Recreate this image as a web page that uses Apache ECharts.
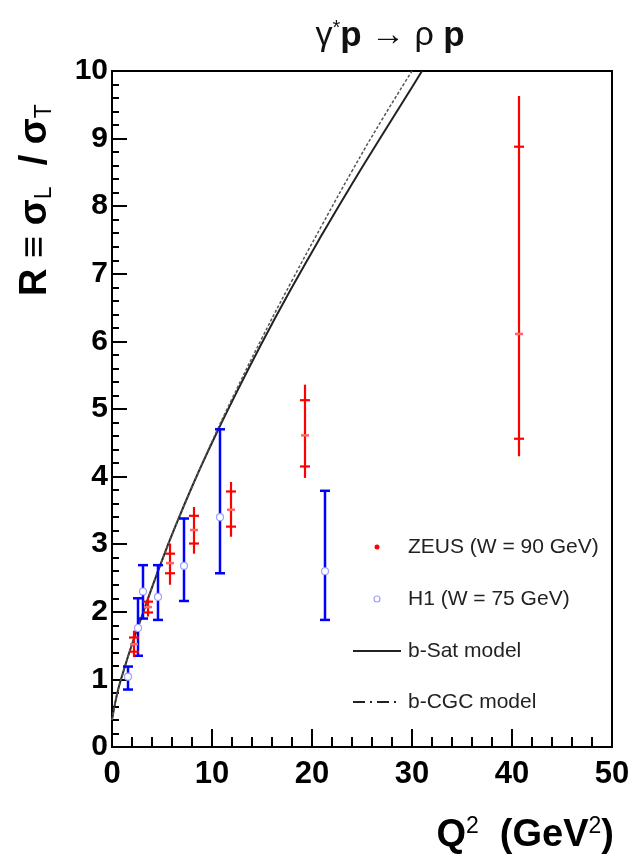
<!DOCTYPE html>
<html>
<head>
<meta charset="utf-8">
<script src="https://cdn.jsdelivr.net/npm/echarts@6/dist/echarts.min.js"></script>
<style>
  html, body { margin: 0; padding: 0; background: #fff; }
  #chart { width: 644px; height: 859px; }
</style>
</head>
<body>
<div id="chart"></div>
<script>
// ZEUS (W = 90 GeV): Q2, R, total error range, stat error range
var zeusQ2     = [2.2, 3.6, 5.8, 8.2, 11.9, 19.3, 40.7];
var zeusR      = [1.52, 2.07, 2.72, 3.21, 3.51, 4.61, 6.11];
var zeusTotLo  = [1.33, 1.93, 2.40, 2.86, 3.11, 3.98, 4.30];
var zeusTotHi  = [1.72, 2.22, 3.01, 3.55, 3.92, 5.36, 9.63];
var zeusStatLo = [1.41, 1.99, 2.57, 3.01, 3.26, 4.15, 4.56];
var zeusStatHi = [1.62, 2.15, 2.86, 3.42, 3.78, 5.13, 8.88];

// H1 (W = 75 GeV)
var h1Q2 = [1.6, 2.6, 3.1, 4.6, 7.2, 10.8, 21.3];
var h1R  = [1.04, 1.76, 2.30, 2.22, 2.68, 3.40, 2.60];
var h1Lo = [0.85, 1.35, 1.90, 1.88, 2.16, 2.57, 1.88];
var h1Hi = [1.19, 2.20, 2.69, 2.69, 3.38, 4.70, 3.79];

// model curves
var satQ2 = [0, 0.5, 1, 2, 3, 4, 5, 6, 8, 10, 12, 15, 18, 21, 24, 27, 30, 31];
var satR  = [0.4, 0.78, 1.05, 1.52, 1.94, 2.36, 2.76, 3.14, 3.85, 4.5, 5.11, 5.98, 6.8, 7.58, 8.33, 9.05, 9.76, 10.0];
var cgcQ2 = [0, 0.5, 1, 2, 3, 4, 5, 6, 8, 10, 12, 15, 18, 21, 24, 27, 30];
var cgcR  = [0.4, 0.78, 1.05, 1.52, 1.94, 2.36, 2.76, 3.14, 3.85, 4.52, 5.15, 6.05, 6.9, 7.72, 8.52, 9.28, 10.0];

var font = 'Liberation Sans, Arial, sans-serif';

var zeusData = zeusQ2.map(function (q, i) {
  return [q, zeusR[i], zeusTotLo[i], zeusTotHi[i], zeusStatLo[i], zeusStatHi[i]];
});
var h1Data = h1Q2.map(function (q, i) {
  return [q, h1R[i], h1Lo[i], h1Hi[i]];
});

function zeusItem(params, api) {
  var x = api.value(0);
  var c = api.coord([x, api.value(1)]);
  var lo = api.coord([x, api.value(2)]);
  var hi = api.coord([x, api.value(3)]);
  var sLo = api.coord([x, api.value(4)]);
  var sHi = api.coord([x, api.value(5)]);
  var st = { stroke: '#ff0000', lineWidth: 2.2 };
  var w = 5;
  return {
    type: 'group',
    children: [
      { type: 'line', shape: { x1: c[0], y1: lo[1], x2: c[0], y2: hi[1] }, style: st },
      { type: 'line', shape: { x1: c[0] - w, y1: sLo[1], x2: c[0] + w, y2: sLo[1] }, style: st },
      { type: 'line', shape: { x1: c[0] - w, y1: sHi[1], x2: c[0] + w, y2: sHi[1] }, style: st },
      { type: 'line', shape: { x1: c[0] - 4, y1: c[1], x2: c[0] + 4, y2: c[1] }, style: { stroke: '#ff6666', lineWidth: 2.5 } }
    ]
  };
}

function h1Item(params, api) {
  var x = api.value(0);
  var c = api.coord([x, api.value(1)]);
  var lo = api.coord([x, api.value(2)]);
  var hi = api.coord([x, api.value(3)]);
  var st = { stroke: '#0000ff', lineWidth: 2.5 };
  var w = 5;
  return {
    type: 'group',
    children: [
      { type: 'line', shape: { x1: c[0], y1: lo[1], x2: c[0], y2: hi[1] }, style: st },
      { type: 'line', shape: { x1: c[0] - w, y1: lo[1], x2: c[0] + w, y2: lo[1] }, style: st },
      { type: 'line', shape: { x1: c[0] - w, y1: hi[1], x2: c[0] + w, y2: hi[1] }, style: st },
      { type: 'circle', shape: { cx: c[0], cy: c[1], r: 3.5 }, style: { fill: '#fff', stroke: '#a0a0ff', lineWidth: 1.2 } }
    ]
  };
}

var chart = echarts.init(document.getElementById('chart'));

var option = {
  animation: false,
  backgroundColor: '#fff',
  grid: {
    left: 112, right: 32, top: 71, bottom: 112,
    show: true, borderColor: '#000', borderWidth: 2, backgroundColor: 'transparent'
  },
  xAxis: {
    type: 'value', min: 0, max: 50, interval: 10,
    axisLine: { show: true, onZero: false, lineStyle: { color: '#000', width: 2 } },
    axisTick: { show: true, inside: true, length: 18, lineStyle: { color: '#000', width: 2 } },
    minorTick: { show: true, splitNumber: 5, length: 10, lineStyle: { color: '#000', width: 2 } },
    splitLine: { show: false },
    axisLabel: { color: '#000', fontFamily: font, fontWeight: 'bold', fontSize: 31, margin: 12 }
  },
  yAxis: {
    type: 'value', min: 0, max: 10, interval: 1,
    axisLine: { show: true, onZero: false, lineStyle: { color: '#000', width: 2 } },
    axisTick: { show: true, inside: true, length: 15, lineStyle: { color: '#000', width: 2 } },
    minorTick: { show: true, splitNumber: 5, length: 7, lineStyle: { color: '#000', width: 2 } },
    splitLine: { show: false },
    axisLabel: { color: '#000', fontFamily: font, fontWeight: 'bold', fontSize: 30, margin: 4 }
  },
  series: [
    {
      name: 'b-Sat model', type: 'line', smooth: true, showSymbol: false,
      data: satQ2.map(function (q, i) { return [q, satR[i]]; }),
      lineStyle: { color: '#222', width: 2 }, z: 3
    },
    {
      name: 'b-CGC model', type: 'line', smooth: true, showSymbol: false,
      data: cgcQ2.map(function (q, i) { return [q, cgcR[i]]; }),
      lineStyle: { color: '#555', width: 1.5, type: [3, 2] }, z: 3
    },
    {
      name: 'H1', type: 'custom', renderItem: h1Item, data: h1Data,
      encode: { x: 0, y: [1, 2, 3] }, z: 4
    },
    {
      name: 'ZEUS', type: 'custom', renderItem: zeusItem, data: zeusData,
      encode: { x: 0, y: [1, 2, 3] }, z: 5
    }
  ],
  graphic: [
    // title
    {
      type: 'text', x: 390, y: 36,
      style: {
        textAlign: 'center', textVerticalAlign: 'middle',
        text: '{n|γ}{s|*}{b|p}{n| → ρ }{b|p}',
        rich: {
          n: { fontFamily: font, fontSize: 34, fill: '#111' },
          s: { fontFamily: font, fontSize: 20, fill: '#111', padding: [0, 0, 15, 0] },
          b: { fontFamily: font, fontSize: 35, fontWeight: 'bold', fill: '#111' }
        }
      }
    },
    // y-axis title
    {
      type: 'text', x: 36, y: 200, rotation: Math.PI / 2,
      style: {
        textAlign: 'center', textVerticalAlign: 'middle',
        text: '{b|R ≡ σ}{s|L}{b|  / σ}{s|T}',
        rich: {
          b: { fontFamily: font, fontSize: 38, fontWeight: 'bold', fill: '#000' },
          s: { fontFamily: font, fontSize: 23, fill: '#000', padding: [18, 0, 0, 0] }
        }
      }
    },
    // x-axis title
    {
      type: 'text', x: 614, y: 836,
      style: {
        textAlign: 'right', textVerticalAlign: 'middle',
        text: '{b|Q}{s|2}{b|  (GeV}{s|2}{b|)}',
        rich: {
          b: { fontFamily: font, fontSize: 38, fontWeight: 'bold', fill: '#000' },
          s: { fontFamily: font, fontSize: 23, fill: '#000', padding: [0, 0, 19, 0] }
        }
      }
    },
    // legend
    { type: 'circle', shape: { cx: 377, cy: 547, r: 2.5 }, style: { fill: '#ff0000' } },
    { type: 'text', x: 408, y: 547, style: { text: 'ZEUS (W = 90 GeV)', fontFamily: font, fontSize: 21, fill: '#222', textVerticalAlign: 'middle' } },
    { type: 'circle', shape: { cx: 377, cy: 599, r: 3 }, style: { fill: '#fff', stroke: '#a0a0ff', lineWidth: 1.2 } },
    { type: 'text', x: 408, y: 599, style: { text: 'H1 (W = 75 GeV)', fontFamily: font, fontSize: 21, fill: '#222', textVerticalAlign: 'middle' } },
    { type: 'line', shape: { x1: 353, y1: 651, x2: 401, y2: 651 }, style: { stroke: '#222', lineWidth: 2 } },
    { type: 'text', x: 408, y: 651, style: { text: 'b-Sat model', fontFamily: font, fontSize: 21, fill: '#222', textVerticalAlign: 'middle' } },
    { type: 'line', shape: { x1: 353, y1: 702, x2: 401, y2: 702 }, style: { stroke: '#222', lineWidth: 2, lineDash: [12, 5, 2, 5] } },
    { type: 'text', x: 408, y: 702, style: { text: 'b-CGC model', fontFamily: font, fontSize: 21, fill: '#222', textVerticalAlign: 'middle' } }
  ]
};

chart.setOption(option);
</script>
</body>
</html>
